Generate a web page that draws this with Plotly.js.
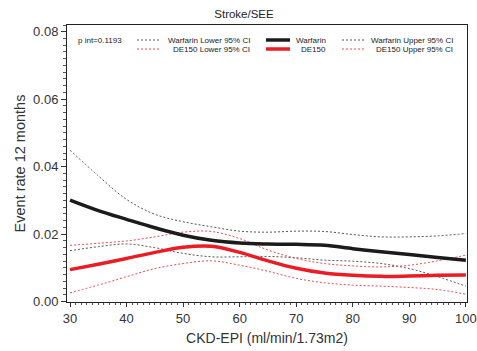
<!DOCTYPE html>
<html>
<head>
<meta charset="utf-8">
<script src="https://cdn.plot.ly/plotly-3.0.1.min.js"></script>
<style>html,body{margin:0;padding:0;background:#fff;}#chart{width:477px;height:351px;}</style>
</head>
<body>
<div id="chart"></div>
<script>
// ---- data ----
const egfr = [30, 35, 40, 45, 50, 55, 60, 65, 70, 75, 80, 85, 90, 95, 100];
const warfarin      = [0.0301, 0.0270, 0.0244, 0.0219, 0.0197, 0.0182, 0.0174, 0.0171, 0.0170, 0.0167, 0.0157, 0.0148, 0.0140, 0.0131, 0.0123];
const warfarinUpper = [0.0449, 0.0373, 0.0303, 0.0259, 0.0237, 0.0222, 0.0209, 0.0206, 0.0209, 0.0208, 0.0199, 0.0192, 0.0192, 0.0195, 0.0202];
const warfarinLower = [0.0151, 0.0163, 0.0171, 0.0160, 0.0143, 0.0133, 0.0133, 0.0134, 0.0130, 0.0123, 0.0120, 0.0113, 0.0098, 0.0074, 0.0046];
const de150         = [0.0095, 0.0111, 0.0128, 0.0146, 0.0161, 0.0164, 0.0146, 0.0121, 0.0099, 0.0085, 0.0078, 0.0075, 0.0076, 0.0078, 0.0079];
const de150Upper    = [0.0167, 0.0173, 0.0180, 0.0192, 0.0206, 0.0208, 0.0187, 0.0153, 0.0128, 0.0113, 0.0106, 0.0103, 0.0108, 0.0121, 0.0138];
const de150Lower    = [0.0026, 0.0049, 0.0074, 0.0098, 0.0113, 0.0121, 0.0108, 0.0090, 0.0069, 0.0056, 0.0049, 0.0046, 0.0042, 0.0036, 0.0022];
const seriesNames = ["Warfarin Lower 95% CI", "Warfarin", "Warfarin Upper 95% CI",
                     "DE150 Lower 95% CI", "DE150", "DE150 Upper 95% CI"];
const chartTitle = "Stroke/SEE";
const pIntText = "p int=0.1193";
const xTitle = "CKD-EPI (ml/min/1.73m2)";
const yTitle = "Event rate 12 months";

// ---- styles ----
const BLACK = "#1b1b1b", BLACK_CI = "#555555", RED = "#ec1c24", RED_CI = "#ee4a50";
const ciDash = "2px,2px";
const font = "Liberation Sans, Arial, sans-serif";

function tr(name, y, color, width, dash) {
  return {x: egfr, y: y, name: name, type: "scatter", mode: "lines",
          line: {color: color, width: width, dash: dash, shape: "spline", smoothing: 1},
          showlegend: false, hoverinfo: "skip"};
}
const data = [
  tr(seriesNames[0], warfarinLower, BLACK_CI, 1, ciDash),
  tr(seriesNames[2], warfarinUpper, BLACK_CI, 1, ciDash),
  tr(seriesNames[3], de150Lower, RED_CI, 1, ciDash),
  tr(seriesNames[5], de150Upper, RED_CI, 1, ciDash),
  tr(seriesNames[1], warfarin, BLACK, 3.5, "solid"),
  tr(seriesNames[4], de150, RED, 3.5, "solid")
];

// ---- legend built in paper coordinates (px -> paper) ----
const L = 67, R = 467, T = 25, B = 302;
const px = v => (v - L) / (R - L);
const py = v => (B - v) / (B - T);
const legendCols = [
  {s0: 137, s1: 160, tx: 252},
  {s0: 266, s1: 290, tx: 328},
  {s0: 342, s1: 365, tx: 455}
];
const legendRows = [40, 49];
const legendStyle = [
  [[BLACK_CI, 1, ciDash], [BLACK, 3.5, "solid"], [BLACK_CI, 1, ciDash]],
  [[RED_CI, 1, ciDash], [RED, 3.5, "solid"], [RED_CI, 1, ciDash]]
];
const shapes = [], annotations = [];
legendRows.forEach((ry, r) => {
  legendCols.forEach((c, ci) => {
    const st = legendStyle[r][ci];
    shapes.push({type: "line", xref: "paper", yref: "paper",
      x0: px(c.s0), x1: px(c.s1), y0: py(ry), y1: py(ry),
      line: {color: st[0], width: st[1], dash: st[2]}});
    annotations.push({xref: "paper", yref: "paper", x: px(c.tx), y: py(ry),
      xanchor: "right", yanchor: "middle", showarrow: false,
      text: seriesNames[r * 3 + ci], font: {family: font, size: 8, color: "#222"}});
  });
});
annotations.push({xref: "paper", yref: "paper", x: px(76), y: py(40),
  xanchor: "left", yanchor: "middle", showarrow: false,
  text: pIntText, font: {family: font, size: 8, color: "#222"}});

const layout = {
  width: 477, height: 351,
  margin: {l: L, r: 477 - R, t: T, b: 351 - B},
  paper_bgcolor: "#fff", plot_bgcolor: "#fff",
  font: {family: font, color: "#333"},
  title: {text: chartTitle, x: 244 / 477, xanchor: "center",
          y: 1 - 14 / 351, yanchor: "middle", font: {family: font, size: 11.5, color: "#222"}},
  xaxis: {
    range: [29.47, 100.2], tickvals: [30, 40, 50, 60, 70, 80, 90, 100],
    ticks: "outside", ticklen: 4, tickcolor: "#333", tickwidth: 1,
    minor: {dtick: 1, tick0: 30, ticks: "outside", ticklen: 2, tickcolor: "#555"},
    showline: true, linecolor: "#222", linewidth: 1, mirror: true,
    showgrid: false, zeroline: false,
    tickfont: {family: font, size: 13, color: "#333"},
    title: {text: xTitle, font: {family: font, size: 14, color: "#333"}, standoff: 8}
  },
  yaxis: {
    range: [-0.0001, 0.0820], tickvals: [0, 0.02, 0.04, 0.06, 0.08], tickformat: ".2f",
    ticks: "outside", ticklen: 5, tickcolor: "#333", tickwidth: 1,
    minor: {dtick: 0.002, tick0: 0, ticks: "outside", ticklen: 3, tickcolor: "#555"},
    showline: true, linecolor: "#222", linewidth: 1, mirror: true,
    showgrid: false, zeroline: false,
    tickfont: {family: font, size: 13, color: "#333"},
    title: {text: yTitle, font: {family: font, size: 14.5, color: "#333"}, standoff: 4}
  },
  shapes: shapes,
  annotations: annotations,
  showlegend: false
};
Plotly.newPlot("chart", data, layout, {displayModeBar: false, staticPlot: true});
</script>
</body>
</html>
